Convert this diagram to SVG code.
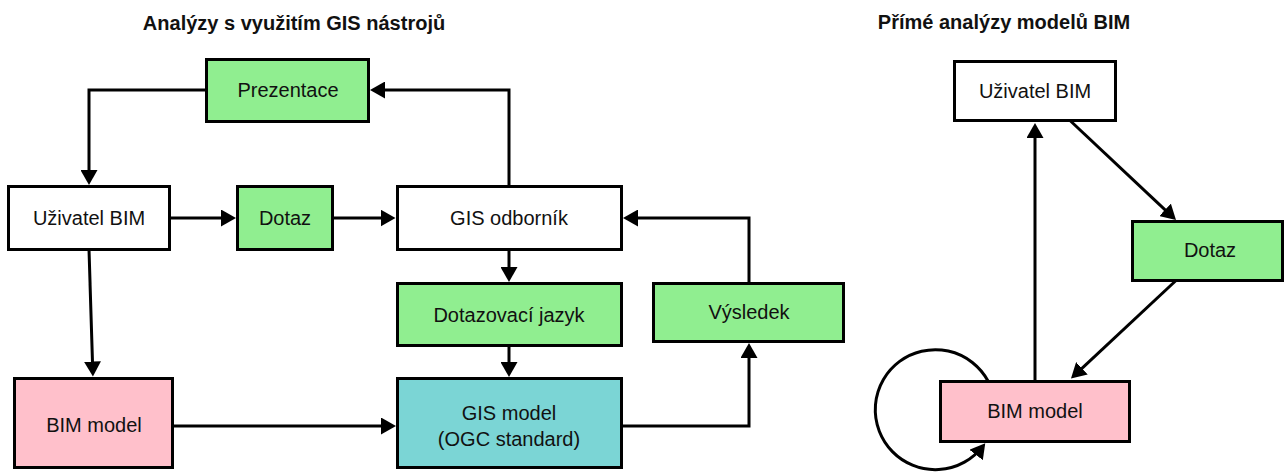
<svg xmlns="http://www.w3.org/2000/svg" width="1284" height="472" viewBox="0 0 1284 472">
<style>
.box{stroke:#000;stroke-width:3}
.w{fill:#fff}.g{fill:#90ee90}.p{fill:#ffc0cb}.t{fill:#7bd5d5}
text{font-family:"Liberation Sans",Arial,sans-serif;font-size:20px;fill:#111;text-anchor:middle}
.title{font-weight:bold}
.c{fill:none;stroke:#000;stroke-width:3;marker-end:url(#ah)}
</style>
<defs>
<marker id="ah" markerUnits="userSpaceOnUse" markerWidth="16" markerHeight="17" refX="11" refY="8.5" orient="auto">
<path d="M0,0 L15,8.5 L0,17 z" fill="#000"/>
</marker>
</defs>
<rect width="1284" height="472" fill="#fff"/>
<text class="title" x="294" y="30">Analýzy s využitím GIS nástrojů</text>
<text class="title" x="1004" y="29">Přímé analýzy modelů BIM</text>
<g id="connectors">
<path class="c" d="M206.5 90 H89 V181"/>
<path class="c" d="M509 186.5 V90 H374"/>
<path class="c" d="M169.5 218 H232"/>
<path class="c" d="M332.5 218 H391.5"/>
<path class="c" d="M509 249.5 V278"/>
<path class="c" d="M509 345.5 V373"/>
<path class="c" d="M89 249.5 L92.8 372.5"/>
<path class="c" d="M172.5 426 H392"/>
<path class="c" d="M621.5 426 H749 V347"/>
<path class="c" d="M749 283.5 V218 H627"/>
<path class="c" d="M1035 381.5 V127"/>
<path class="c" d="M1070 120.5 L1173.1 217.3"/>
<path class="c" d="M1176 280.5 L1073.9 375.8"/>
<path class="c" d="M988 381 A60 60 0 1 0 982.8 446.3"/>
</g>
<g id="prezentace"><rect class="box g" x="206.5" y="59.5" width="162" height="62"/><text x="288" y="97">Prezentace</text></g>
<g id="uzivatel-bim-l"><rect class="box w" x="8.5" y="186.5" width="161" height="63"/><text x="89" y="225">Uživatel BIM</text></g>
<g id="dotaz-l"><rect class="box g" x="237.5" y="186.5" width="95" height="63"/><text x="285" y="225">Dotaz</text></g>
<g id="gis-odbornik"><rect class="box w" x="397.5" y="186.5" width="224" height="63"/><text x="509" y="225">GIS odborník</text></g>
<g id="dotazovaci-jazyk"><rect class="box g" x="397.5" y="283.5" width="224" height="62"/><text x="509" y="322">Dotazovací jazyk</text></g>
<g id="vysledek"><rect class="box g" x="653.5" y="283.5" width="190" height="58"/><text x="749" y="319">Výsledek</text></g>
<g id="bim-model-l"><rect class="box p" x="14.5" y="378.5" width="158" height="89"/><text x="94" y="432">BIM model</text></g>
<g id="gis-model"><rect class="box t" x="397.5" y="378.5" width="224" height="89"/><text x="509" y="420">GIS model</text><text x="509" y="446">(OGC standard)</text></g>
<g id="uzivatel-bim-r"><rect class="box w" x="954.5" y="61.5" width="161" height="59"/><text x="1035" y="98">Uživatel BIM</text></g>
<g id="dotaz-r"><rect class="box g" x="1132.5" y="221.5" width="150" height="59"/><text x="1210" y="257">Dotaz</text></g>
<g id="bim-model-r"><rect class="box p" x="940.5" y="381.5" width="189" height="60"/><text x="1035" y="418">BIM model</text></g>
</svg>
